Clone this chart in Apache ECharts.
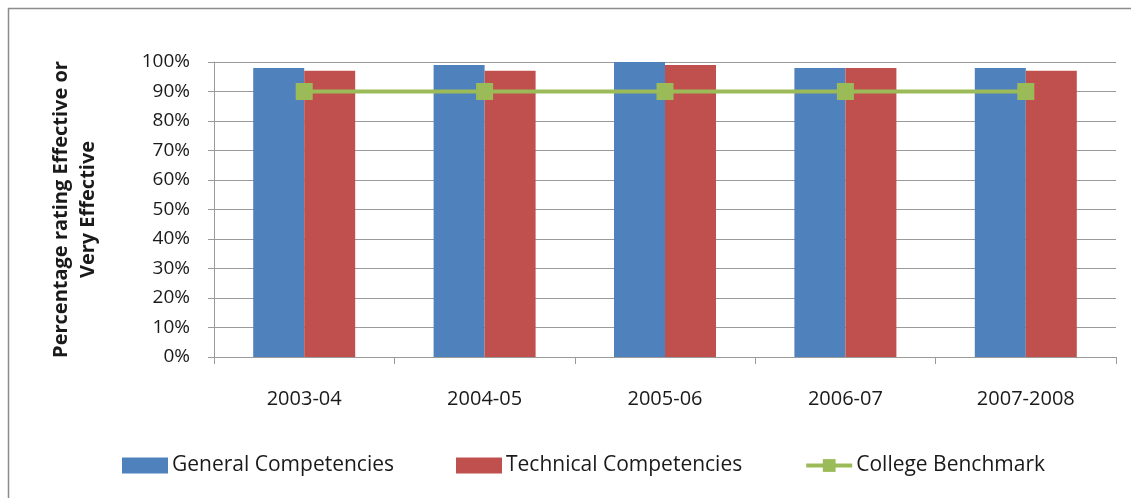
<!DOCTYPE html>
<html>
<head>
<meta charset="utf-8">
<script src="https://cdn.jsdelivr.net/npm/echarts@6/dist/echarts.min.js"></script>
<style>
  html, body { margin: 0; padding: 0; background: #fff; }
  #chart { width: 1131px; height: 498px; }
</style>
</head>
<body>
<div id="chart"></div>
<script>
// School years on the category axis
const years = ['2003-04', '2004-05', '2005-06', '2006-07', '2007-2008'];
// Percentage rating Effective or Very Effective
const generalCompetencies = [98, 99, 100, 98, 98];
const technicalCompetencies = [97, 97, 99, 98, 97];
const collegeBenchmark = [90, 90, 90, 90, 90];

const FONT = '"Open Sans", sans-serif';
const chart = echarts.init(document.getElementById('chart'), null, { renderer: 'canvas' });

chart.setOption({
  backgroundColor: '#ffffff',
  animation: false,
  graphic: [{
    type: 'rect',
    shape: { x: 8.5, y: 8.5, width: 1140, height: 510 },
    style: { fill: 'none', stroke: '#8c8c8c', lineWidth: 1.5 },
    silent: true
  }],
  grid: { left: 214, right: 15, top: 62, bottom: 141 },
  legend: {
    left: 122,
    top: 455,
    padding: 0,
    itemWidth: 46,
    itemHeight: 16,
    itemGap: 62,
    textStyle: { fontFamily: FONT, fontSize: 21, color: '#1a1a1a', padding: [0, 0, 0, -1] },
    data: [
      { name: 'General Competencies', icon: 'rect' },
      { name: 'Technical Competencies', icon: 'rect' },
      { name: 'College Benchmark', lineStyle: { width: 4 } }
    ]
  },
  xAxis: {
    type: 'category',
    data: years,
    boundaryGap: true,
    axisLine: { lineStyle: { color: '#9a9a9a', width: 1 } },
    axisTick: { show: true, length: 7, inside: false, lineStyle: { color: '#9a9a9a' } },
    axisLabel: { fontFamily: FONT, fontSize: 20, color: '#1a1a1a', margin: 32 }
  },
  yAxis: {
    type: 'value',
    min: 0,
    max: 100,
    interval: 10,
    name: 'Percentage rating Effective or\nVery Effective',
    nameLocation: 'middle',
    nameRotate: 90,
    nameGap: 112,
    nameTextStyle: { fontFamily: FONT, fontSize: 20, fontWeight: 'bold', color: '#1a1a1a', lineHeight: 27, align: 'center' },
    axisLine: { show: true, lineStyle: { color: '#9a9a9a', width: 1 } },
    axisTick: { show: true, length: 6, lineStyle: { color: '#9a9a9a' } },
    splitLine: { show: true, lineStyle: { color: '#9a9a9a', width: 1 } },
    axisLabel: { fontFamily: FONT, fontSize: 19, color: '#1a1a1a', margin: 24, formatter: '{value}%' }
  },
  series: [
    {
      name: 'General Competencies',
      type: 'bar',
      data: generalCompetencies,
      barWidth: 51,
      barGap: '0%',
      itemStyle: { color: '#4F81BD' }
    },
    {
      name: 'Technical Competencies',
      type: 'bar',
      data: technicalCompetencies,
      barWidth: 51,
      barGap: '0%',
      itemStyle: { color: '#C0504D' }
    },
    {
      name: 'College Benchmark',
      type: 'line',
      data: collegeBenchmark,
      symbol: 'rect',
      symbolSize: 17,
      lineStyle: { color: '#9BBB59', width: 4 },
      itemStyle: { color: '#9BBB59', borderWidth: 0 },
      z: 5
    }
  ]
});
</script>
</body>
</html>
